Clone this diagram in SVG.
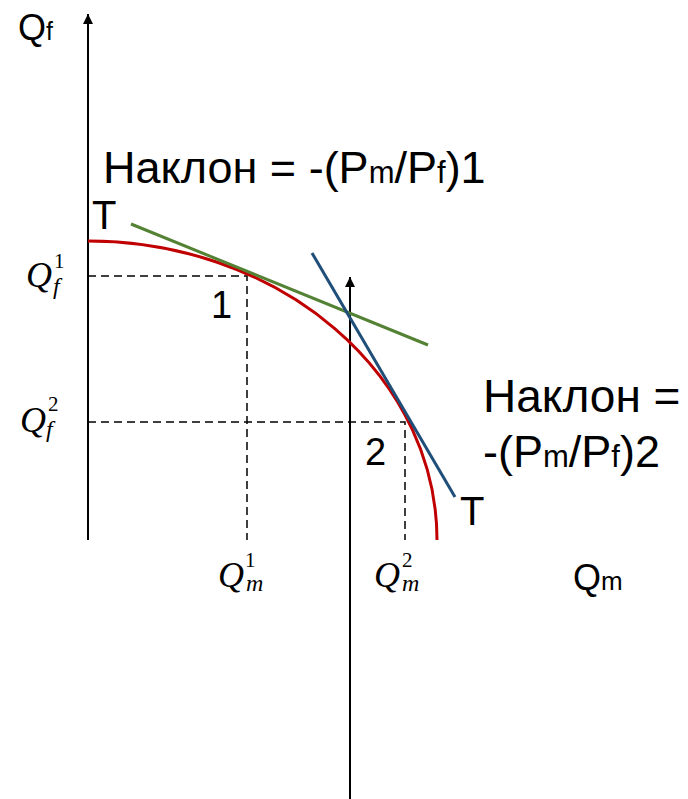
<svg xmlns="http://www.w3.org/2000/svg" width="688" height="799" viewBox="0 0 688 799">
<style>
.axis{stroke:#000;stroke-width:2;fill:none}
.dash{stroke:#000;stroke-width:1.5;stroke-dasharray:8 5;fill:none}
.t{font-family:"Liberation Sans",Arial,sans-serif;fill:#000}
.m{font-family:"Liberation Serif","Times New Roman",serif;font-style:italic;fill:#000}
.up{font-style:normal;font-size:21px}
.dn{font-size:24px}
</style>
<defs>
<marker id="ah" viewBox="0 0 10 10" refX="10" refY="5" markerWidth="10" markerHeight="10" markerUnits="userSpaceOnUse" orient="auto">
<path d="M0,0 L10,5 L0,10 z" fill="#000"/>
</marker>
</defs>
<rect width="688" height="799" fill="#fff"/>
<g id="connectors">
<line class="axis" x1="88" y1="540" x2="88" y2="14" marker-end="url(#ah)"/>
<line class="axis" x1="350" y1="799" x2="350" y2="277" marker-end="url(#ah)"/>
<path class="dash" d="M88,276 H247 V540"/>
<path class="dash" d="M88,422 H405 V540"/>
<path d="M88,241 A349,299 0 0 1 437,540" fill="none" stroke="#c00000" stroke-width="3"/>
<line x1="131" y1="224" x2="428" y2="345" stroke="#548235" stroke-width="3"/>
<line x1="312" y1="253" x2="455" y2="497" stroke="#1f4e79" stroke-width="3"/>
</g>
<g id="labels">
<text class="t" x="18" y="40" font-size="36">Q<tspan font-size="25">f</tspan></text>
<text class="t" x="103" y="183" font-size="45">Наклон = -(P<tspan font-size="31">m</tspan>/P<tspan font-size="31">f</tspan>)1</text>
<text class="t" x="92" y="229" font-size="40">T</text>
<text class="t" x="460" y="525" font-size="40">T</text>
<text class="t" x="483" y="412" font-size="46">Наклон =</text>
<text class="t" x="483" y="467" font-size="45">-(P<tspan font-size="31">m</tspan>/P<tspan font-size="31">f</tspan>)2</text>
<text class="t" x="211" y="318" font-size="38">1</text>
<text class="t" x="365" y="465" font-size="38">2</text>
<text class="t" x="573" y="590" font-size="36">Q<tspan font-size="26">m</tspan></text>
<text class="m" x="26" y="287" font-size="36">Q<tspan class="up" x="54" y="268">1</tspan><tspan class="dn" x="53" y="294">f</tspan></text>
<text class="m" x="20" y="432" font-size="36">Q<tspan class="up" x="48" y="411">2</tspan><tspan class="dn" x="46" y="437">f</tspan></text>
<text class="m" x="218" y="587" font-size="36">Q<tspan class="up" x="245" y="567">1</tspan><tspan class="dn" x="246" y="591">m</tspan></text>
<text class="m" x="374" y="587" font-size="36">Q<tspan class="up" x="402" y="567">2</tspan><tspan class="dn" x="402" y="591">m</tspan></text>
</g>
</svg>
